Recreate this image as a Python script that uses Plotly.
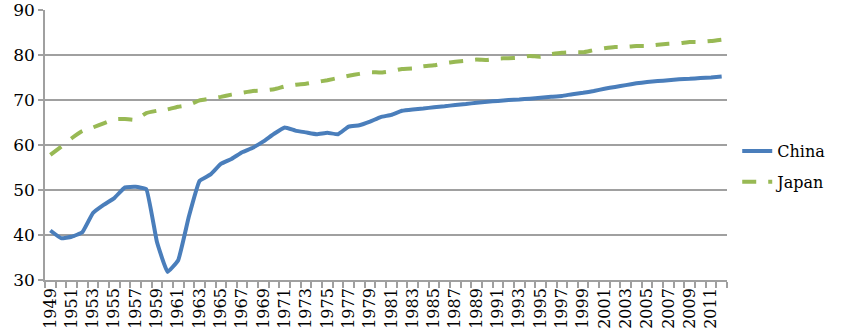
import plotly.graph_objects as go

years = list(range(1949, 2013))

china = [41.0, 39.3, 39.6, 40.6, 44.9, 46.7, 48.2, 50.6, 50.7, 50.2,
         38.5, 31.8, 34.4, 44.1, 52.0, 53.4, 55.8, 56.9, 58.4, 59.4,
         60.8, 62.5, 63.9, 63.2, 62.8, 62.4, 62.7, 62.4, 64.1, 64.4,
         65.2, 66.2, 66.7, 67.6, 67.9, 68.1, 68.4, 68.6, 68.9, 69.1,
         69.4, 69.6, 69.8, 70.0, 70.1, 70.3, 70.5, 70.7, 70.9, 71.3,
         71.6, 72.0, 72.5, 72.9, 73.3, 73.7, 74.0, 74.2, 74.4, 74.6,
         74.7, 74.9, 75.0, 75.2]

japan = [57.8, 59.6, 61.5, 63.1, 63.9, 64.8, 65.7, 65.8, 65.6, 67.1,
         67.6, 67.9, 68.5, 68.9, 69.9, 70.3, 70.7, 71.2, 71.6, 72.0,
         72.1, 72.4, 73.0, 73.4, 73.6, 74.0, 74.4, 74.9, 75.4, 75.8,
         76.2, 76.1, 76.4, 76.9, 77.0, 77.5, 77.7, 78.2, 78.5, 78.7,
         79.0, 78.9, 79.2, 79.3, 79.4, 79.8, 79.6, 80.2, 80.5, 80.6,
         80.6, 81.1, 81.5, 81.8, 81.8, 82.0, 82.0, 82.3, 82.5, 82.6,
         82.9, 82.9, 83.1, 83.4]

x_tick_vals = list(range(1949, 2013, 2))
x_tick_text = [str(y) for y in x_tick_vals]
y_tick_vals = [30, 40, 50, 60, 70, 80, 90]

font_family = "DejaVu Serif"
grid_col = "#A0A0A0"

fig = go.Figure()
fig.add_trace(go.Scatter(
    x=years, y=china, mode="lines", name="China", legendgroup="a",
    line=dict(color="#4A7EBB", width=4, shape="spline", smoothing=0.3),
))
fig.add_trace(go.Scatter(
    x=years, y=japan, mode="lines", name="Japan", legendgroup="b",
    line=dict(color="#98B954", width=4, dash="14px,12px", shape="spline", smoothing=0.3),
))

fig.update_layout(
    width=850, height=335,
    margin=dict(l=45, r=123, t=10, b=55),
    paper_bgcolor="white", plot_bgcolor="white",
    font=dict(family=font_family, size=16, color="black"),
    legend=dict(x=1.015, xanchor="left", y=0.42, yanchor="middle",
                font=dict(family=font_family, size=16), traceorder="grouped",
                tracegroupgap=7, bgcolor="rgba(0,0,0,0)"),
    xaxis=dict(
        range=[1948.5, 2012.5], tickmode="array", tickvals=x_tick_vals,
        ticktext=x_tick_text, tickangle=-90, ticks="", automargin=False,
        ticklabeloverflow="allow",
        showgrid=False, showline=True, linecolor=grid_col, linewidth=1.5,
        tickfont=dict(family=font_family, size=16), zeroline=False,
        minor=dict(tick0=1948.5, dtick=1, ticks="outside", ticklen=6,
                   tickcolor=grid_col, tickwidth=1.5, showgrid=False),
    ),
    yaxis=dict(
        range=[30, 90], tickmode="array", tickvals=y_tick_vals, automargin=False,
        ticklabeloverflow="allow",
        ticks="outside", ticklen=5, tickcolor=grid_col, tickwidth=1.5,
        showgrid=True, gridcolor=grid_col, gridwidth=1.5,
        showline=True, linecolor=grid_col, linewidth=1.5, zeroline=False,
        tickfont=dict(family=font_family, size=17),
    ),
)

fig.write_html("out.html")
